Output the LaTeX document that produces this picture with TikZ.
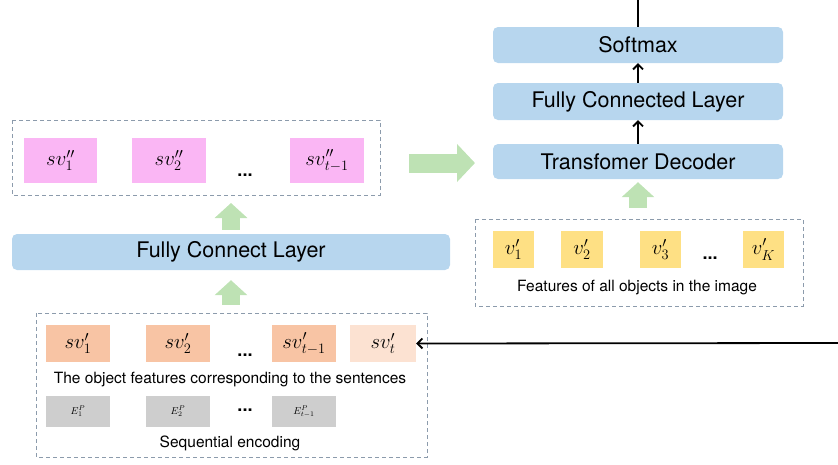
\documentclass[tikz,border=0pt]{standalone}
\usepackage{amsmath}
\usepackage{fontspec}
\setmainfont{TeX Gyre Heros}
\usetikzlibrary{arrows.meta}

\definecolor{layerblue}{RGB}{183,214,238}
\definecolor{pinkfeat}{RGB}{250,182,244}
\definecolor{orangefeat}{RGB}{248,196,164}
\definecolor{lightorange}{RGB}{252,226,210}
\definecolor{grayfeat}{RGB}{206,206,206}
\definecolor{yellowfeat}{RGB}{254,224,132}
\definecolor{greenarrow}{RGB}{190,226,180}
\definecolor{dashgray}{RGB}{140,155,172}

\begin{document}
\begin{tikzpicture}[x=1pt,y=-1pt,
  layer/.style={fill=layerblue, rounded corners=5pt, inner sep=0pt, minimum width=290pt, font=\fontsize{21.5}{24}\selectfont},
  featbox/.style={inner sep=0pt, minimum width=64pt, minimum height=37pt, font=\fontsize{20.74}{24}\selectfont},
  smallfeat/.style={featbox, fill=grayfeat, minimum height=31pt, font=\fontsize{10}{12}\selectfont},
  groupbox/.style={draw=dashgray, line width=0.9pt, dash pattern=on 4pt off 3pt},
  caption/.style={font=\fontsize{15.5}{18}\selectfont},
  dotsnode/.style={font=\fontsize{18}{20}\selectfont\bfseries},
  flow/.style={line width=1.8pt, -{Straight Barb[length=5pt,width=10pt,line width=1.8pt]}},
  bigup/.style={draw=greenarrow, line width=18pt, -{Triangle[length=15pt,width=32pt]}}]

\useasboundingbox (0,0) rectangle (838,464);

% sentence side, top group
\draw [groupbox] (12,120) rectangle (380,195);
\node [featbox, fill=pinkfeat, minimum width=73pt, minimum height=45pt] (pinkA) at (60.5,160.5) {$sv''_1$};
\node [featbox, fill=pinkfeat, minimum width=74pt, minimum height=45pt] (pinkB) at (169,160.5) {$sv''_2$};
\node [dotsnode] (pinkDots) at (245,175) {...};
\node [featbox, fill=pinkfeat, minimum width=74pt, minimum height=45pt] (pinkC) at (327,160.5) {$sv''_{t-1}$};

\node [layer, minimum width=438pt, minimum height=36pt] (fcLeft) at (231,252) {Fully Connect Layer};

% sentence side, bottom group
\draw [groupbox] (36,313) rectangle (427,457);
\node [featbox, fill=orangefeat] (orA) at (78,343.5) {$sv'_1$};
\node [featbox, fill=orangefeat] (orB) at (178,343.5) {$sv'_2$};
\node [dotsnode] (orDots) at (245,355) {...};
\node [featbox, fill=orangefeat] (orC) at (304,343.5) {$sv'_{t-1}$};
\node [featbox, fill=lightorange, minimum width=66pt] (orD) at (383,343.5) {$sv'_t$};
\node [caption] (sentText) at (230,380) {The object features corresponding to the sentences};
\node [smallfeat] (grA) at (78,411.5) {$E^P_1$};
\node [smallfeat] (grB) at (178,411.5) {$E^P_2$};
\node [dotsnode] (grDots) at (245,410) {...};
\node [smallfeat] (grC) at (304,411.5) {$E^P_{t-1}$};
\node [caption] (seqText) at (230,443) {Sequential encoding};

% decoder side
\node [layer, minimum height=36pt] (softmax) at (638,45) {Softmax};
\node [layer, minimum height=37pt] (fcRight) at (638,101.5) {Fully Connected Layer};
\node [layer, minimum height=35pt] (decoder) at (638,161.5) {Transfomer Decoder};

\draw [groupbox] (475,219) rectangle (803,306);
\node [featbox, fill=yellowfeat, minimum width=41pt] (yeA) at (513.5,249.5) {$v'_1$};
\node [featbox, fill=yellowfeat, minimum width=42pt] (yeB) at (582,249.5) {$v'_2$};
\node [featbox, fill=yellowfeat, minimum width=41pt] (yeC) at (660.5,249.5) {$v'_3$};
\node [dotsnode] (yeDots) at (710,258) {...};
\node [featbox, fill=yellowfeat, minimum width=41pt] (yeD) at (763.5,249.5) {$v'_K$};
\node [caption] (imgText) at (637,288) {Features of all objects in the image};

\coordinate (outTop) at (638,0);
\coordinate (inRight) at (838,343);
\coordinate (hzStart) at (409,163);
\coordinate (hzEnd) at (475,163);
\coordinate (sentIn) at (231,305);
\coordinate (pinkIn) at (231,203);
\coordinate (imgOut) at (638,208);

% connectors
\draw [line width=1.8pt] (softmax.north) -- (outTop);
\draw [flow] (fcRight.north) -- (softmax.south);
\draw [flow] (decoder.north) -- (fcRight.south);
\draw [flow] (inRight) -- (orD.east);

\draw [bigup] (sentIn) -- ([yshift=-10pt]fcLeft.south);
\draw [bigup] ([yshift=4pt]fcLeft.north) -- (pinkIn);
\draw [bigup] (imgOut) -- ([yshift=-3pt]decoder.south);
\draw [bigup, line width=19pt, -{Triangle[length=18pt,width=37pt]}] (hzStart) -- (hzEnd);

\end{tikzpicture}
\end{document}
